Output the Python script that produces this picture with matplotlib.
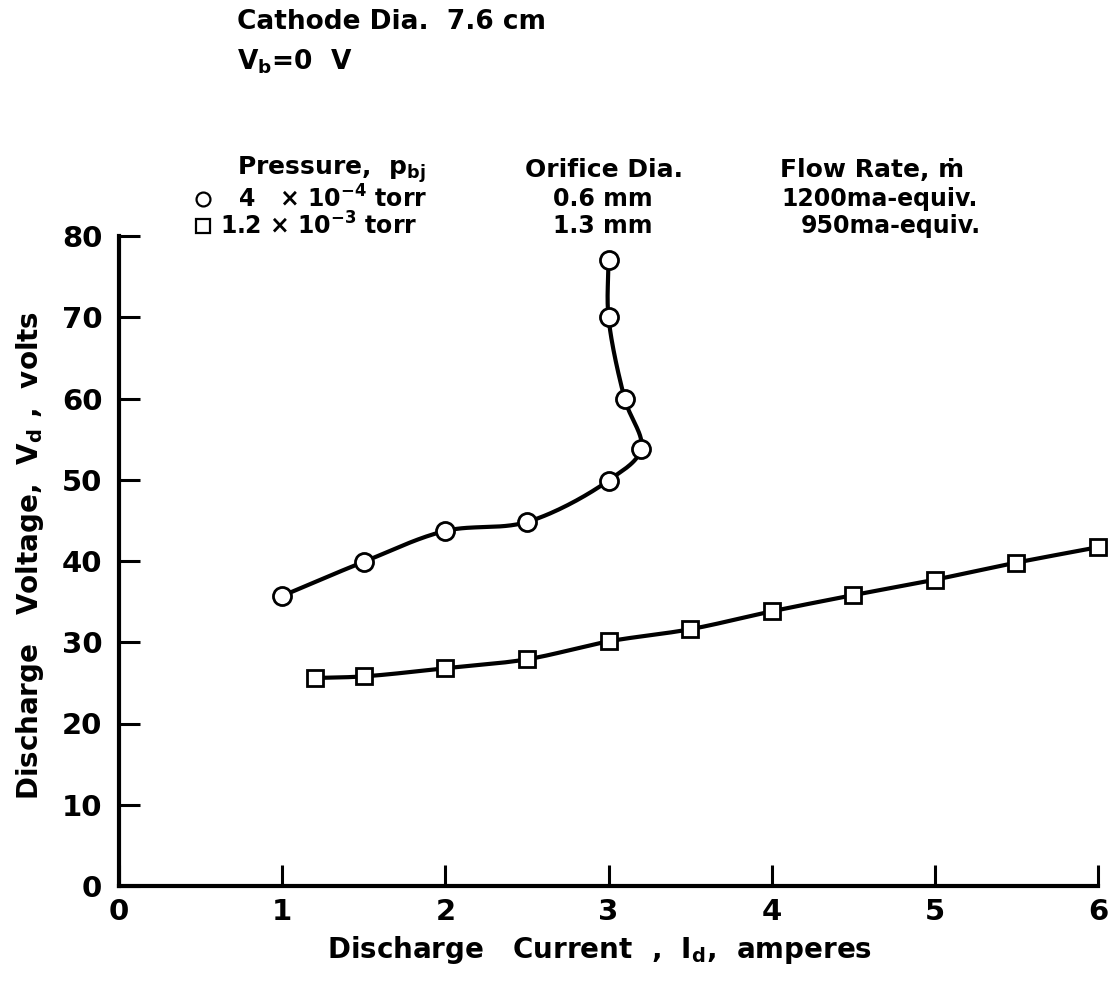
import numpy as np
import matplotlib.pyplot as plt

plt.rcParams['font.family'] = 'DejaVu Sans'
plt.rcParams['font.weight'] = 'bold'
plt.rcParams['mathtext.default'] = 'regular'

# discharge current (A) vs discharge voltage (V)
cur_small = [1.0, 1.5, 2.0, 2.5, 3.0, 3.2, 3.1, 3.0, 3.0]
volt_small = [35.7, 39.9, 43.7, 44.8, 49.9, 53.8, 59.9, 70.0, 77.0]

cur_large = [1.2, 1.5, 2.0, 2.5, 3.0, 3.5, 4.0, 4.5, 5.0, 5.5, 6.0]
volt_large = [25.6, 25.8, 26.8, 27.9, 30.1, 31.6, 33.8, 35.8, 37.7, 39.8, 41.7]

xticks = [0, 1, 2, 3, 4, 5, 6]
yticks = [0, 10, 20, 30, 40, 50, 60, 70, 80]


def curve(xs, ys, sx=163.0, sy=8.1, n=30):
    # centripetal catmull-rom through the points, done in screen-ish units
    p = np.column_stack([np.asarray(xs) * sx, np.asarray(ys) * sy])
    p = np.vstack([2 * p[0] - p[1], p, 2 * p[-1] - p[-2]])
    out = []
    for i in range(1, len(p) - 2):
        p0, p1, p2, p3 = p[i - 1], p[i], p[i + 1], p[i + 2]
        t0 = 0.0
        t1 = t0 + np.linalg.norm(p1 - p0) ** 0.5
        t2 = t1 + np.linalg.norm(p2 - p1) ** 0.5
        t3 = t2 + np.linalg.norm(p3 - p2) ** 0.5
        t = np.linspace(t1, t2, n, endpoint=False)[:, None]
        a1 = (t1 - t) / (t1 - t0) * p0 + (t - t0) / (t1 - t0) * p1
        a2 = (t2 - t) / (t2 - t1) * p1 + (t - t1) / (t2 - t1) * p2
        a3 = (t3 - t) / (t3 - t2) * p2 + (t - t2) / (t3 - t2) * p3
        b1 = (t2 - t) / (t2 - t0) * a1 + (t - t0) / (t2 - t0) * a2
        b2 = (t3 - t) / (t3 - t1) * a2 + (t - t1) / (t3 - t1) * a3
        out.append((t2 - t) / (t2 - t1) * b1 + (t - t1) / (t2 - t1) * b2)
    out.append(p[-2:-1])
    c = np.vstack(out)
    return c[:, 0] / sx, c[:, 1] / sy


W, H = 1116, 992
fig = plt.figure(figsize=(W / 100, H / 100), dpi=100)
ax = fig.add_axes([119 / W, 1 - 886 / H, (1098 - 119) / W, (886 - 236) / H])

for xs, ys, mk, ms in [(cur_small, volt_small, 'o', 13),
                       (cur_large, volt_large, 's', 12)]:
    cx, cy = curve(xs, ys)
    ax.plot(cx, cy, color='black', lw=3.0, solid_capstyle='round', clip_on=False)
    ax.plot(xs, ys, ls='none', marker=mk, ms=ms, mfc='white', mec='black',
            mew=2.0, clip_on=False, zorder=3)

ax.set_xlim(0, 6)
ax.set_ylim(0, 80)
ax.set_xticks(xticks)
ax.set_yticks(yticks)
ax.set_xticklabels([str(v) for v in xticks])
ax.set_yticklabels([str(v) for v in yticks])
ax.tick_params(direction='in', length=15, width=2.2, labelsize=21)
ax.tick_params(axis='x', pad=9)
ax.tick_params(axis='y', pad=12)
for s in ['top', 'right']:
    ax.spines[s].set_visible(False)
for s in ['left', 'bottom']:
    ax.spines[s].set_linewidth(3.0)

fig.text(599 / W, 1 - 950 / H, r'Discharge   Current  ,  I$_d$,  amperes',
         fontsize=20, ha='center', va='center')
fig.text(30 / W, 1 - 556 / H, r'Discharge   Voltage,  V$_d$ ,  volts',
         fontsize=20, ha='center', va='center', rotation=90)

# header notes
fig.text(237 / W, 1 - 22 / H, 'Cathode Dia.  7.6 cm', fontsize=19, va='center')
fig.text(237 / W, 1 - 62 / H, r'V$_b$=0  V', fontsize=19, va='center')

fig.text(237 / W, 1 - 170 / H, r'Pressure,  p$_{bj}$', fontsize=18, va='center')
fig.text(525 / W, 1 - 170 / H, 'Orifice Dia.', fontsize=18, va='center')
fig.text(780 / W, 1 - 170 / H, 'Flow Rate, ṁ', fontsize=18, va='center')

fig.text(238 / W, 1 - 199 / H, r'4   $\times$ 10$^{-4}$ torr', fontsize=17, va='center')
fig.text(553 / W, 1 - 199 / H, '0.6 mm', fontsize=17, va='center')
fig.text(781 / W, 1 - 199 / H, '1200ma-equiv.', fontsize=17, va='center')

fig.text(220 / W, 1 - 226 / H, r'1.2 $\times$ 10$^{-3}$ torr', fontsize=17, va='center')
fig.text(553 / W, 1 - 226 / H, '1.3 mm', fontsize=17, va='center')
fig.text(801 / W, 1 - 226 / H, '950ma-equiv.', fontsize=17, va='center')

ax.plot([203 / W], [1 - 199 / H], marker='o', ms=10, mfc='white', mec='black',
        mew=1.6, transform=fig.transFigure, clip_on=False)
ax.plot([203 / W], [1 - 226 / H], marker='s', ms=10, mfc='white', mec='black',
        mew=1.6, transform=fig.transFigure, clip_on=False)

fig.savefig('out.png', dpi=100)
